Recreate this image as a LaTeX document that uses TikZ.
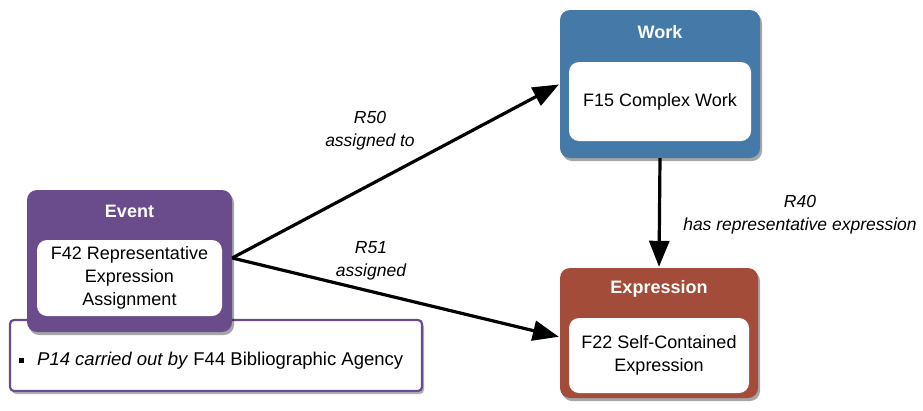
\documentclass[tikz,border=0pt]{standalone}
\usepackage{fontspec}
\setmainfont{Liberation Sans}
\usetikzlibrary{arrows.meta,shadows}
\definecolor{evpurple}{RGB}{106,76,140}
\definecolor{wkblue}{RGB}{69,122,168}
\definecolor{exred}{RGB}{163,76,58}
\tikzset{
  outerbox/.style={rounded corners=10pt, draw=none, drop shadow={shadow xshift=2pt, shadow yshift=-3pt, fill=black, opacity=0.35}},
  innerbox/.style={rounded corners=10pt, fill=white, align=center, font=\fontsize{18}{23}\selectfont, inner sep=0pt},
  titletext/.style={text=white, font=\fontsize{18}{22}\selectfont\bfseries},
  rel/.style={line width=3.2pt, -{Triangle[length=26pt,width=20pt]}, shorten >=1pt},
  rellabel/.style={font=\fontsize{17.5}{23}\selectfont\itshape, align=center},
}
\begin{document}
\begin{tikzpicture}[x=1pt,y=-1pt]
\useasboundingbox (0,0) rectangle (923,410);
% note box
\node[draw=evpurple, line width=2.2pt, fill=white, rounded corners=4pt, minimum width=412pt, minimum height=71pt, inner sep=0pt, drop shadow={shadow xshift=2pt, shadow yshift=-3pt, fill=black, opacity=0.3}] (note) at (216,355.5) {};
\node[anchor=west, font=\fontsize{18.5}{22}\selectfont, inner sep=0pt] (notetext) at (19,361) {\raisebox{2.5pt}{\rule{5pt}{5pt}}\hspace{13pt}\textit{P14 carried out by} F44 Bibliographic Agency};
% event
\node[outerbox, fill=evpurple, minimum width=205pt, minimum height=142pt] (event) at (129.5,261) {};
\node[titletext] (eventtitle) at (129.5,211) {Event};
\node[innerbox, minimum width=185pt, minimum height=76pt] (eventin) at (129.5,278) {F42 Representative\\Expression\\Assignment};
% work
\node[outerbox, fill=wkblue, minimum width=200pt, minimum height=148pt] (work) at (660,84) {};
\node[titletext] (worktitle) at (660,32) {Work};
\node[innerbox, minimum width=182pt, minimum height=79pt] (workin) at (660,101.5) {F15 Complex Work};
% expression
\node[outerbox, fill=exred, minimum width=198pt, minimum height=130pt] (expr) at (659,333) {};
\node[titletext] (exprtitle) at (659,289) {Expression};
\node[innerbox, minimum width=180pt, minimum height=75pt] (exprin) at (659,355.5) {F22 Self-Contained\\Expression};
% arrows
\draw[rel] ([yshift=3pt]event.east) -- (work.west);
\draw[rel] ([yshift=3pt]event.east) -- ([yshift=-4pt]expr.west);
\draw[rel] (work.south) -- (expr.north);
% labels
\node[rellabel] (l50) at (370,131) {R50\\assigned to};
\node[rellabel] (l51) at (371,260.5) {R51\\assigned};
\node[rellabel] (l40) at (800,214.5) {R40\\has representative expression};
\end{tikzpicture}
\end{document}
